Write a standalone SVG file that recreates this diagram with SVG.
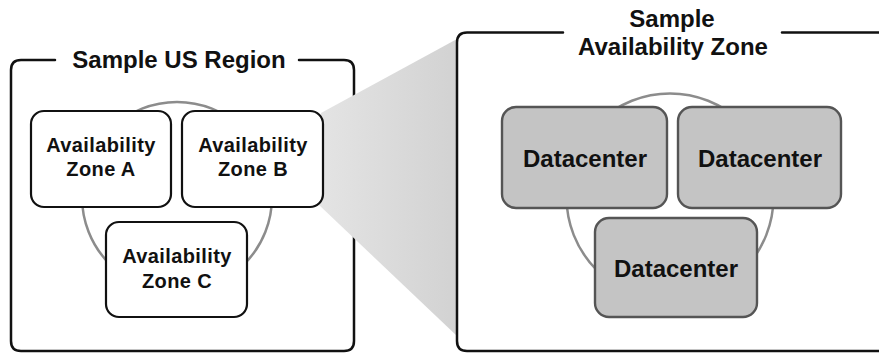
<svg xmlns="http://www.w3.org/2000/svg" width="879" height="354" viewBox="0 0 879 354">
<style>
.frame{fill:none;stroke:#111;stroke-width:2.5;stroke-linecap:round}
.ring{fill:none;stroke:#8c8c8c;stroke-width:2.5}
.zone{fill:#fff;stroke:#111;stroke-width:2.2}
.dc{fill:#c4c4c4;stroke:#555;stroke-width:2.4}
.t{font-family:"Liberation Sans",Arial,sans-serif;font-weight:bold;fill:#111;text-anchor:middle}
.title{font-size:24px}
.zt{font-size:20px;letter-spacing:0.4px}
.dt{font-size:24px}
</style>
<defs>
<linearGradient id="wg" x1="0" y1="0" x2="1" y2="0">
<stop offset="0" stop-color="#e4e4e4"/>
<stop offset="1" stop-color="#d2d2d2"/>
</linearGradient>
</defs>
<g id="region">
<path class="frame" d="M55,60 H21 Q11,60 11,70 V341 Q11,351 21,351 H344 Q354,351 354,341 V70 Q354,60 344,60 H299"/>
<text class="t title" x="179" y="68">Sample US Region</text>
</g>
<g id="zoom-wedge">
<polygon points="321,113 457,39 457,336 319,205" fill="url(#wg)"/>
</g>
<g id="az-frame">
<path class="frame" d="M563,32.5 H467 Q457,32.5 457,42.5 V341 Q457,351 467,351 H890"/>
<path class="frame" d="M782,32.5 H890"/>
<text class="t title" x="672" y="27">Sample</text>
<text class="t title" x="673" y="55">Availability Zone</text>
</g>
<g id="connectors">
<circle class="ring" cx="177" cy="197" r="95"/>
<circle class="ring" cx="670" cy="197" r="103.5"/>
</g>
<g id="zone-a">
<rect class="zone" x="31" y="111" width="140" height="96" rx="13"/>
<text class="t zt" x="101" y="152">Availability</text>
<text class="t zt" x="101" y="176">Zone A</text>
</g>
<g id="zone-b">
<rect class="zone" x="182" y="111" width="141" height="96" rx="13"/>
<text class="t zt" x="253" y="152">Availability</text>
<text class="t zt" x="253" y="176">Zone B</text>
</g>
<g id="zone-c">
<rect class="zone" x="106" y="222" width="141" height="95" rx="13"/>
<text class="t zt" x="177" y="263">Availability</text>
<text class="t zt" x="177" y="288">Zone C</text>
</g>
<g id="dc-1">
<rect class="dc" x="502" y="107" width="165" height="101" rx="14"/>
<text class="t dt" x="585" y="167">Datacenter</text>
</g>
<g id="dc-2">
<rect class="dc" x="678" y="107" width="163" height="101" rx="14"/>
<text class="t dt" x="760" y="167">Datacenter</text>
</g>
<g id="dc-3">
<rect class="dc" x="595" y="218" width="162" height="99" rx="14"/>
<text class="t dt" x="676" y="277">Datacenter</text>
</g>
</svg>
